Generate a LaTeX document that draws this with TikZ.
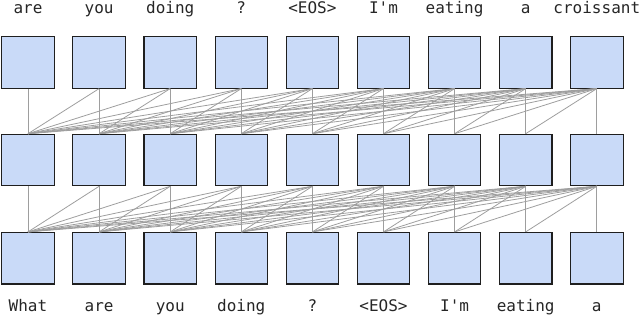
\documentclass[tikz,border=0pt]{standalone}
\usepackage{fontspec}
\setmonofont{DejaVu Sans Mono}
\definecolor{celeste}{HTML}{C9DAF8}

\tikzset{
    celda/.style={draw=black!88, line width=1.1pt, fill=celeste,
        minimum width=52.5pt, minimum height=51.5pt, inner sep=0pt},
    atencion/.style={draw=black!38, line width=0.8pt},
    palabra/.style={font=\ttfamily\fontsize{16}{19}\selectfont, text=black!85,
        anchor=base, inner sep=0pt}
}

\begin{document}
\begin{tikzpicture}[x=1pt, y=-1pt]

    % --- Parámetros de la rejilla ---
    \def\xini{28}      % Centro de la primera columna
    \def\paso{71.1}    % Separación entre columnas
    \def\ysup{62.3}    % Fila superior
    \def\ymed{160}     % Fila central
    \def\yinf{258.2}   % Fila inferior

    \useasboundingbox (0,0) rectangle (640,316);

    % =========================================================================
    % 1. Celdas de las tres capas
    % =========================================================================
    \foreach \k in {0,...,8} {
        \node[celda] (sup\k) at ({\xini+\k*\paso}, \ysup) {};
        \node[celda] (med\k) at ({\xini+\k*\paso}, \ymed) {};
        \node[celda] (inf\k) at ({\xini+\k*\paso}, \yinf) {};
    }

    % =========================================================================
    % 2. Conexiones causales: cada celda j ve las celdas i <= j de abajo
    % =========================================================================
    \foreach \j in {0,...,8} {
        \foreach \i in {0,...,\j} {
            \draw[atencion] (sup\j.south) -- (med\i.north);
            \draw[atencion] (med\j.south) -- (inf\i.north);
        }
    }

    % =========================================================================
    % 3. Palabras de salida (arriba) y de entrada (abajo)
    % =========================================================================
    \foreach \w [count=\k from 0] in {are,you,doing,?,<EOS>,I'm,eating,a,croissant}
        \node[palabra] (salida\k) at ({\xini+\k*\paso}, 13) {\w};

    \foreach \w [count=\k from 0] in {What,are,you,doing,?,<EOS>,I'm,eating,a}
        \node[palabra] (entrada\k) at ({\xini+\k*\paso}, 311.5) {\w};

\end{tikzpicture}
\end{document}
